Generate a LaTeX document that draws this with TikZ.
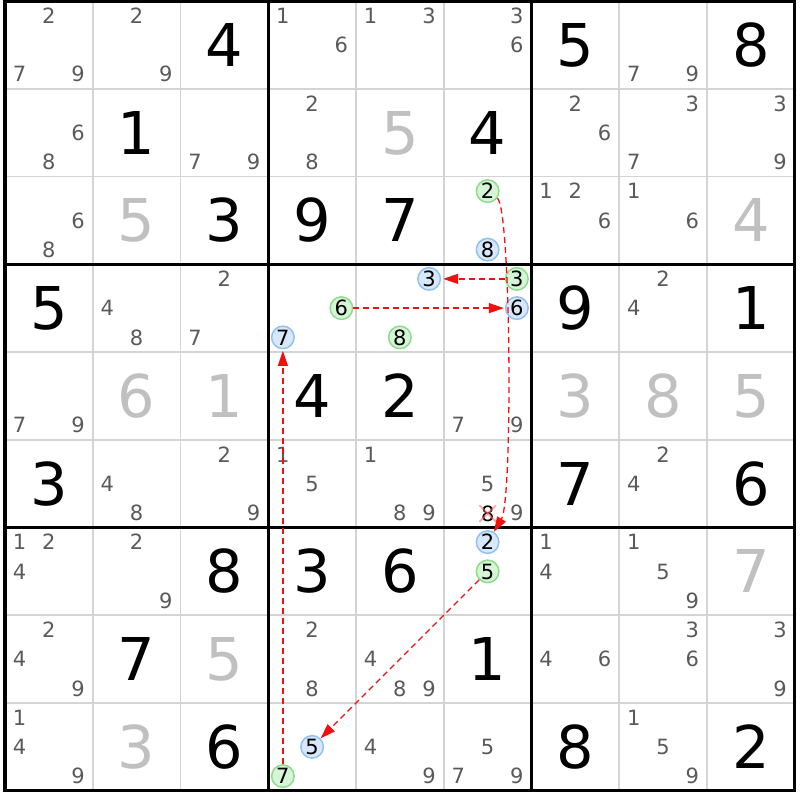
\documentclass[tikz,border=0pt]{standalone}
\usepackage{fontspec}
\setmainfont{DejaVu Sans}
\usetikzlibrary{arrows.meta}
\definecolor{candc}{HTML}{5A5A5A}
\definecolor{solvc}{HTML}{C0C0C0}
\definecolor{thinc}{HTML}{D4D4D4}
\definecolor{grnfill}{HTML}{D6F5D6}
\definecolor{grndraw}{HTML}{8EDC8E}
\definecolor{blufill}{HTML}{D6E8FA}
\definecolor{bludraw}{HTML}{92C2F2}
\definecolor{chainc}{HTML}{F01010}
\tikzset{
  given/.style={font=\fontsize{59pt}{59pt}\selectfont, text=black, inner sep=0pt, text height=43pt, text depth=0pt},
  solved/.style={given, text=solvc},
  cand/.style={font=\fontsize{21pt}{21pt}\selectfont, text=candc, inner sep=0pt, text height=15.3pt, text depth=0pt},
  hlbase/.style={cand, text=black, circle, minimum size=22.5pt, line width=1.5pt},
  grn/.style={hlbase, draw=grndraw, fill=grnfill},
  blu/.style={hlbase, draw=bludraw, fill=blufill},
  chain/.style={draw=chainc, line width=1.3pt, dash pattern=on 6pt off 4pt, -{Triangle[length=15pt,width=10pt,fill=chainc]}},
  thinline/.style={draw=thinc, line width=1.6pt},
  thickline/.style={draw=black, line width=3.2pt},
  elim/.style={draw=red!60, line width=2pt, opacity=0.55, line cap=round}
}
\newcommand{\candset}[3]{%
  \foreach \q in {#3}{%
    \pgfmathtruncatemacro\sc{mod(\q-1,3)}%
    \pgfmathtruncatemacro\sr{div(\q-1,3)}%
    \pgfmathsetmacro\cx{5+87.75*(#2-1)+14.625*(2*\sc+1)}%
    \pgfmathsetmacro\cy{1+87.75*(#1-1)+14.625*(2*\sr+1)}%
    \node[cand] (k-#1-#2-\q) at (\cx,\cy) {\q};
  }}
\newcommand{\bigdig}[4]{%
  \pgfmathsetmacro\cx{5+87.75*(#2-0.5)}%
  \pgfmathsetmacro\cy{1+87.75*(#1-0.5)}%
  \node[#4] (v-#1-#2) at (\cx,\cy) {#3};}
\newcommand{\hlcand}[4]{%
  \pgfmathtruncatemacro\sc{mod(#3-1,3)}%
  \pgfmathtruncatemacro\sr{div(#3-1,3)}%
  \pgfmathsetmacro\cx{5+87.75*(#2-1)+14.625*(2*\sc+1)}%
  \pgfmathsetmacro\cy{1+87.75*(#1-1)+14.625*(2*\sr+1)}%
  \node[#4] (h-#1-#2-#3) at (\cx,\cy) {#3};}
\begin{document}
\begin{tikzpicture}[x=1pt,y=-1pt]
\useasboundingbox[fill=white] (0,0) rectangle (800,800);
% grid
\foreach \i in {1,2,4,5,7,8}{
  \draw[thinline] ({5+87.75*\i},1) -- ({5+87.75*\i},790.75);
  \draw[thinline] (5,{1+87.75*\i}) -- (794.75,{1+87.75*\i});
}
\foreach \i in {0,3,6,9}{
  \draw[thickline] ({5+87.75*\i},-0.6) -- ({5+87.75*\i},792.35);
  \draw[thickline] (3.4,{1+87.75*\i}) -- (796.35,{1+87.75*\i});
}
% row 1
\candset{1}{1}{2,7,9}\candset{1}{2}{2,9}\bigdig{1}{3}{4}{given}
\candset{1}{4}{1,6}\candset{1}{5}{1,3}\candset{1}{6}{3,6}
\bigdig{1}{7}{5}{given}\candset{1}{8}{7,9}\bigdig{1}{9}{8}{given}
% row 2
\candset{2}{1}{6,8}\bigdig{2}{2}{1}{given}\candset{2}{3}{7,9}
\candset{2}{4}{2,8}\bigdig{2}{5}{5}{solved}\bigdig{2}{6}{4}{given}
\candset{2}{7}{2,6}\candset{2}{8}{3,7}\candset{2}{9}{3,9}
% row 3
\candset{3}{1}{6,8}\bigdig{3}{2}{5}{solved}\bigdig{3}{3}{3}{given}
\bigdig{3}{4}{9}{given}\bigdig{3}{5}{7}{given}
\hlcand{3}{6}{2}{grn}\hlcand{3}{6}{8}{blu}
\candset{3}{7}{1,2,6}\candset{3}{8}{1,6}\bigdig{3}{9}{4}{solved}
% row 4
\bigdig{4}{1}{5}{given}\candset{4}{2}{4,8}\candset{4}{3}{2,7}
\hlcand{4}{4}{6}{grn}\hlcand{4}{4}{7}{blu}
\hlcand{4}{5}{3}{blu}\hlcand{4}{5}{8}{grn}
\hlcand{4}{6}{3}{grn}\hlcand{4}{6}{6}{blu}
\bigdig{4}{7}{9}{given}\candset{4}{8}{2,4}\bigdig{4}{9}{1}{given}
% row 5
\candset{5}{1}{7,9}\bigdig{5}{2}{6}{solved}\bigdig{5}{3}{1}{solved}
\bigdig{5}{4}{4}{given}\bigdig{5}{5}{2}{given}\candset{5}{6}{7,9}
\bigdig{5}{7}{3}{solved}\bigdig{5}{8}{8}{solved}\bigdig{5}{9}{5}{solved}
% row 6
\bigdig{6}{1}{3}{given}\candset{6}{2}{4,8}\candset{6}{3}{2,9}
\candset{6}{4}{1,5}\candset{6}{5}{1,8,9}\candset{6}{6}{5,9}
\node[cand, text=black] (k-6-6-8) at (487.75,513.5) {8};
\draw[elim] (k-6-6-8.center) ++(-8,-8) coordinate (xa) -- ++(16,16) coordinate (xb);
\draw[elim] (k-6-6-8.center) ++(8,-8) coordinate (xc) -- ++(-16,16) coordinate (xd);
\bigdig{6}{7}{7}{given}\candset{6}{8}{2,4}\bigdig{6}{9}{6}{given}
% row 7
\candset{7}{1}{1,2,4}\candset{7}{2}{2,9}\bigdig{7}{3}{8}{given}
\bigdig{7}{4}{3}{given}\bigdig{7}{5}{6}{given}
\hlcand{7}{6}{2}{blu}\hlcand{7}{6}{5}{grn}
\candset{7}{7}{1,4}\candset{7}{8}{1,5,9}\bigdig{7}{9}{7}{solved}
% row 8
\candset{8}{1}{2,4,9}\bigdig{8}{2}{7}{given}\bigdig{8}{3}{5}{solved}
\candset{8}{4}{2,8}\candset{8}{5}{4,8,9}\bigdig{8}{6}{1}{given}
\candset{8}{7}{4,6}\candset{8}{8}{3,6}\candset{8}{9}{3,9}
% row 9
\candset{9}{1}{1,4,9}\bigdig{9}{2}{3}{solved}\bigdig{9}{3}{6}{given}
\hlcand{9}{4}{5}{blu}\hlcand{9}{4}{7}{grn}
\candset{9}{5}{4,9}\candset{9}{6}{5,7,9}
\bigdig{9}{7}{8}{given}\candset{9}{8}{1,5,9}\bigdig{9}{9}{2}{given}
% chain
\draw[chain, shorten >=1.5pt] (h-9-4-7) -- (h-4-4-7);
\draw[chain, shorten >=1pt] (h-4-4-6) -- (h-4-6-6);
\draw[chain, shorten >=2pt] (h-4-6-3) -- (h-4-5-3);
\draw[chain] (h-3-6-2) .. controls (511,208) and (513,500) .. (h-7-6-2);
\draw[chain] (h-7-6-5) -- (h-9-4-5);
\end{tikzpicture}
\end{document}
